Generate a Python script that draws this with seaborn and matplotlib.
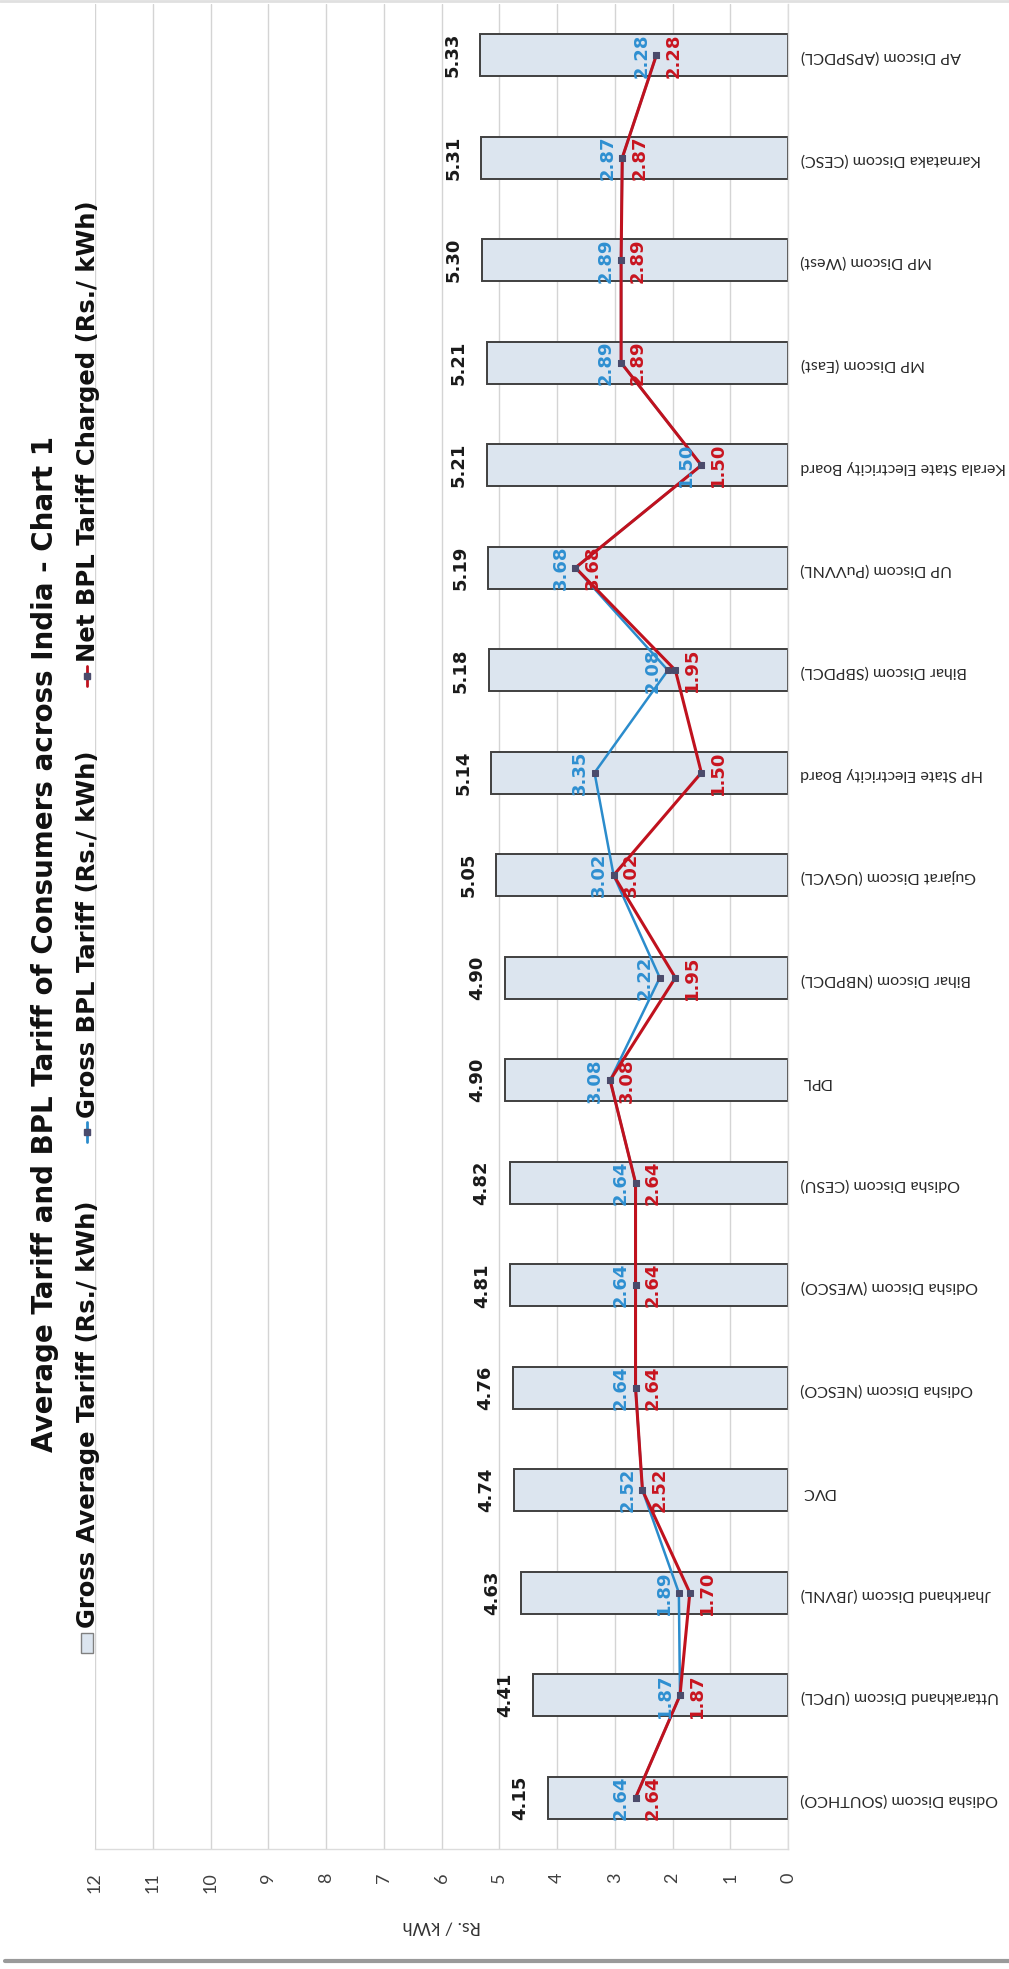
import numpy as np
import matplotlib
matplotlib.use('Agg')
import matplotlib.pyplot as plt
from matplotlib.patches import Rectangle
from matplotlib.lines import Line2D
import seaborn as sns

# data (first entry sits at the bottom of the chart)
discoms = ['Odisha Discom (SOUTHCO)', 'Uttarakhand Discom (UPCL)', 'Jharkhand Discom (JBVNL)',
           'DVC', 'Odisha Discom (NESCO)', 'Odisha Discom (WESCO)', 'Odisha Discom (CESU)',
           'DPL', 'Bihar Discom (NBPDCL)', 'Gujarat Discom (UGVCL)', 'HP State Electricity Board',
           'Bihar Discom (SBPDCL)', 'UP Discom (PuVVNL)', 'Kerala State Electricity Board',
           'MP Discom (East)', 'MP Discom (West)', 'Karnataka Discom (CESC)', 'AP Discom (APSPDCL)']
gross_avg = [4.15, 4.41, 4.63, 4.74, 4.76, 4.81, 4.82, 4.90, 4.90, 5.05, 5.14, 5.18, 5.19,
             5.21, 5.21, 5.30, 5.31, 5.33]
gross_bpl = [2.64, 1.87, 1.89, 2.52, 2.64, 2.64, 2.64, 3.08, 2.22, 3.02, 3.35, 2.08, 3.68,
             1.50, 2.89, 2.89, 2.87, 2.28]
net_bpl = [2.64, 1.87, 1.70, 2.52, 2.64, 2.64, 2.64, 3.08, 1.95, 3.02, 1.50, 1.95, 3.68,
           1.50, 2.89, 2.89, 2.87, 2.28]
value_ticks = list(range(0, 13))

title = 'Average Tariff and BPL Tariff of Consumers across India - Chart 1'
leg_labels = ['Gross Average Tariff (Rs./ kWh)', 'Gross BPL Tariff (Rs./ kWh)',
              'Net BPL Tariff Charged (Rs./ kWh)']

bar_fill = '#dce5ef'
bar_edge = '#404040'
blue = '#2b8ccc'
red = '#c0121e'
marker_col = '#4b4b6b'

sns.set_style('white')
plt.rcParams['font.family'] = ['DejaVu Sans']

W, H = 1009, 1969
fig = plt.figure(figsize=(W / 100, H / 100), dpi=100)
ax = fig.add_axes([95 / W, 1 - 1849 / H, (788 - 95) / W, (1849 - 4) / H])

pos = np.arange(len(discoms))

sns.barplot(x=gross_avg, y=discoms, orient='h', width=0.41, color=bar_fill, saturation=1,
            edgecolor=bar_edge, linewidth=1.4, ax=ax, zorder=2)

sns.lineplot(x=gross_bpl, y=pos, orient='y', sort=False, color=blue, linewidth=1.8,
             marker='s', markersize=5, markerfacecolor=marker_col, markeredgecolor=marker_col,
             ax=ax, zorder=3)
sns.lineplot(x=net_bpl, y=pos, orient='y', sort=False, color=red, linewidth=2.2,
             marker='s', markersize=5, markerfacecolor=marker_col, markeredgecolor=marker_col,
             ax=ax, zorder=4)

# data labels
for i in range(len(discoms)):
    ax.annotate(f'{gross_avg[i]:.2f}', xy=(gross_avg[i], pos[i]), xytext=(-28, 0),
                textcoords='offset pixels', rotation=90, ha='center', va='center',
                fontsize=13, fontweight='bold', color='#1a1a1a', zorder=5)
    ax.annotate(f'{gross_bpl[i]:.2f}', xy=(gross_bpl[i], pos[i]), xytext=(-15, 0),
                textcoords='offset pixels', rotation=90, ha='center', va='center',
                fontsize=13, fontweight='bold', color='#2e8fd1', zorder=5)
    ax.annotate(f'{net_bpl[i]:.2f}', xy=(net_bpl[i], pos[i]), xytext=(17, 0),
                textcoords='offset pixels', rotation=90, ha='center', va='center',
                fontsize=13, fontweight='bold', color='#c8141f', zorder=6)

# axes: value axis runs right to left along the bottom
ax.set_xlim(12, 0)
ax.set_ylim(-0.5, len(discoms) - 0.5)
ax.set_xticks(value_ticks)
ax.set_xticklabels([str(v) for v in value_ticks], rotation=90, fontsize=13,
                   family='Lato', color='#404040')
ax.tick_params(axis='x', length=7, color='#d0d0d0', pad=10)
ax.yaxis.tick_right()
ax.set_yticks(pos)
ax.set_yticklabels(discoms, rotation=180, fontsize=11.5, family='Lato', color='#2a2a2a')
ax.tick_params(axis='y', length=0, pad=9)
ax.set_ylabel('')
ax.set_xlabel('Rs. / kWh', rotation=180, fontsize=13, family='Lato', color='#333333',
              labelpad=18)
ax.grid(axis='x', color='#d4d4d4', linewidth=1)
ax.grid(axis='y', visible=False)
ax.set_axisbelow(True)
for side in ['left', 'top']:
    ax.spines[side].set_visible(False)
for side in ['bottom', 'right']:
    ax.spines[side].set_color('#dcdcdc')
    ax.spines[side].set_linewidth(1)

# title, rotated with the chart
fig.text(45 / W, 1 - 944 / H, title, rotation=90, ha='center', va='center',
         fontsize=20, fontweight='bold', color='#111111')

# legend, rotated with the chart
fig.add_artist(Rectangle((81 / W, 1 - 1653 / H), 12 / W, 20 / H, transform=fig.transFigure,
                         facecolor=bar_fill, edgecolor='#808080', linewidth=1))
fig.text(88 / W, 1 - 1628 / H, leg_labels[0], rotation=90, ha='center', va='bottom',
         fontsize=17.5, fontweight='bold', color='#111111')
for yc, col, lab in [(1132, blue, leg_labels[1]), (676, red, leg_labels[2])]:
    fig.add_artist(Line2D([87 / W, 87 / W], [1 - (yc + 10) / H, 1 - (yc - 10) / H],
                          transform=fig.transFigure, color=col, linewidth=2))
    fig.add_artist(Line2D([87 / W], [1 - yc / H], transform=fig.transFigure, marker='s',
                          markersize=4, color=marker_col, linestyle='none'))
    fig.text(88 / W, 1 - (yc - 14) / H, lab, rotation=90, ha='center', va='bottom',
             fontsize=17.5, fontweight='bold', color='#111111')

# image frame lines
fig.add_artist(Line2D([5 / W, 1], [1 - 1961 / H, 1 - 1961 / H], transform=fig.transFigure,
                      color='#9a9a9a', linewidth=3))
fig.add_artist(Line2D([0, 1], [1 - 1 / H, 1 - 1 / H], transform=fig.transFigure,
                      color='#e0e0e0', linewidth=2))

fig.savefig('out.png', dpi=100, facecolor='white')
